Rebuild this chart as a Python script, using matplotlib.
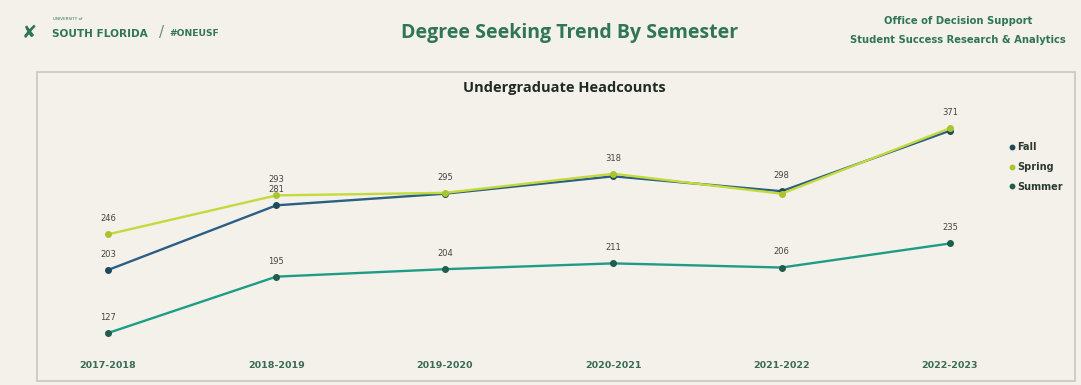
import matplotlib.pyplot as plt
from matplotlib.patches import Rectangle

# data
years = ["2017-2018", "2018-2019", "2019-2020", "2020-2021", "2021-2022", "2022-2023"]
fall = [203, 281, 295, 316, 298, 371]
spring = [246, 293, 296, 319, 295, 374]
summer = [127, 195, 204, 211, 206, 235]

# which point labels are visible (others hidden by overlap)
fall_labels = [203, 281, None, None, 298, None]
spring_labels = [246, 293, 295, 318, None, 371]
summer_labels = [127, 195, 204, 211, 206, 235]

BG = "#f4f1ea"
GREEN = "#2f7556"

fig = plt.figure(figsize=(10.81, 3.85), dpi=100, facecolor=BG)

# header texts
fig.text(0.020, 0.915, "\u2718", fontsize=13, color=GREEN, ha="left", va="center")
fig.text(0.049, 0.950, "UNIVERSITY of", fontsize=3, color=GREEN, ha="left", va="center")
fig.text(0.048, 0.912, "SOUTH FLORIDA", fontsize=7.6, color=GREEN, ha="left", va="center",
         fontweight="bold")
fig.text(0.147, 0.915, "/", fontsize=11, color="#6a8f7d", ha="left", va="center")
fig.text(0.157, 0.912, "#ONEUSF", fontsize=6.6, color=GREEN, ha="left", va="center",
         fontweight="bold")
fig.text(0.527, 0.915, "Degree Seeking Trend By Semester", fontsize=14, color=GREEN,
         ha="center", va="center", fontweight="bold", family="Open Sans")
fig.text(0.886, 0.945, "Office of Decision Support", fontsize=7.2, color=GREEN,
         ha="center", va="center", fontweight="bold")
fig.text(0.886, 0.895, "Student Success Research & Analytics", fontsize=7.2, color=GREEN,
         ha="center", va="center", fontweight="bold")

# panel frame
fig.patches.append(Rectangle((0.034, 0.010), 0.960, 0.802, transform=fig.transFigure,
                             facecolor=BG, edgecolor="#c9c6bf", linewidth=1.2, zorder=-5))
fig.text(0.522, 0.772, "Undergraduate Headcounts", fontsize=10.5, color="#1e2b24",
         ha="center", va="center", fontweight="bold", family="Open Sans")

ax = fig.add_axes([60 / 1081, 45 / 385, 940 / 1081, 240 / 385])
ax.set_facecolor("none")
x = list(range(len(years)))

series = [
    ("Fall", fall, fall_labels, "#2b5f86", "#1f4a5c"),
    ("Spring", spring, spring_labels, "#c4d93c", "#a8c530"),
    ("Summer", summer, summer_labels, "#1f9c86", "#1f5d4c"),
]
for name, vals, labs, lc, mc in series:
    ax.plot(x, vals, color=lc, linewidth=1.7, marker="o", markersize=4,
            markerfacecolor=mc, markeredgecolor=mc, label=name)
    for xi, v, lab in zip(x, vals, labs):
        if lab is not None:
            ax.annotate(str(lab), (xi, v), xytext=(0, 8), textcoords="offset points",
                        ha="center", va="bottom", fontsize=6, color="#444444")

ax.set_xlim(-0.285, 5.297)
ax.set_ylim(118.6, 408)
ax.set_xticks(x)
ax.set_xticklabels(years, fontsize=6.8, color="#3b6b56", fontweight="bold")
ax.tick_params(axis="x", length=0, pad=15)
ax.set_yticks([])
for s in ax.spines.values():
    s.set_visible(False)

leg = ax.legend(loc="upper left", bbox_to_anchor=(1.0, 0.86), frameon=False,
                fontsize=7, handlelength=0.6, handletextpad=0.3, labelspacing=1.0,
                markerscale=0.8)
for line in leg.get_lines():
    line.set_linewidth(0)
for t in leg.get_texts():
    t.set_color("#2b3a33")
    t.set_fontweight("bold")

fig.savefig("out.png", dpi=100, facecolor=BG)
